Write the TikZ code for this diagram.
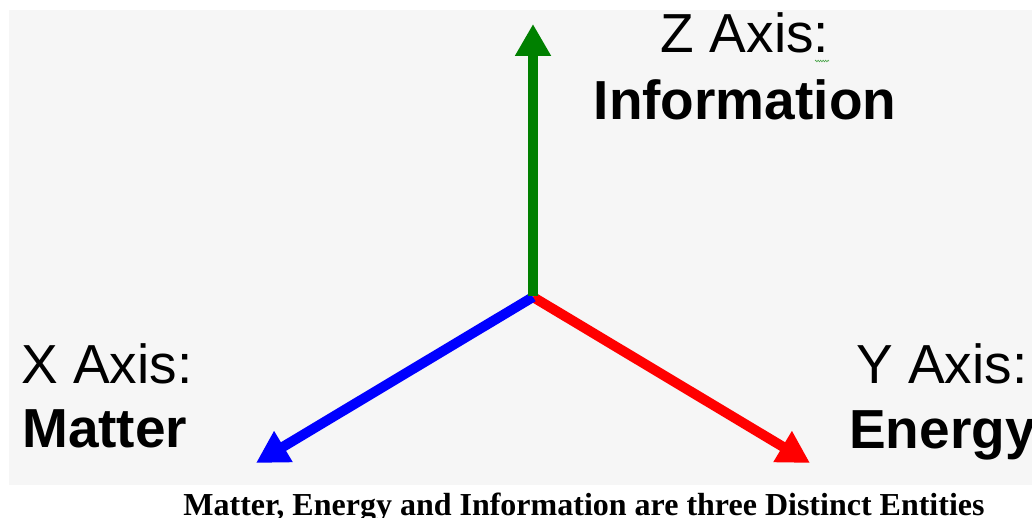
\documentclass[tikz,border=0pt]{standalone}
\usepackage{fontspec}
\setmainfont{Liberation Serif}
\newfontfamily\arialf{Liberation Sans}
\usetikzlibrary{arrows.meta,decorations.pathmorphing}
\definecolor{bgc}{HTML}{F6F6F6}
\definecolor{zgreen}{HTML}{008000}
\definecolor{xblue}{HTML}{0000FF}
\definecolor{yred}{HTML}{FF0000}
\tikzset{
  axisarrow/.style={line width=10pt, line cap=butt, -{Triangle[length=32pt,width=34pt]}},
  lblreg/.style={inner sep=0pt, font=\arialf\fontsize{55}{60}\selectfont, anchor=base},
  lblbold/.style={inner sep=0pt, font=\arialf\bfseries\fontsize{55}{60}\selectfont, anchor=base},
  captionstyle/.style={inner sep=0pt, font=\bfseries\fontsize{32}{36}\selectfont, anchor=base},
}
\begin{document}
\begin{tikzpicture}[x=1pt,y=-1pt]
\useasboundingbox (0,0) rectangle (1032,518);
\fill[white] (0,0) rectangle (1032,518);
\fill[bgc] (9,10) rectangle (1032,485);
\coordinate (O) at (533,297);
\coordinate (Ztip) at (533,24);
\coordinate (Xtip) at (256,463);
\coordinate (Ytip) at (810,463);
\draw[axisarrow, yred] (O) -- (Ytip);
\draw[axisarrow, xblue] (O) -- (Xtip);
\draw[axisarrow, zgreen] ([yshift=1pt]O) -- (Ztip);
\node[lblreg] (zaxis) at (745,53) {Z Axis:};
\node[lblbold] (zinfo) at (745,120) {Information};
\coordinate (sq1) at (815,61);
\coordinate (sq2) at (829,61);
\draw[zgreen!70!white, line width=0.6pt, decorate, decoration={zigzag, amplitude=0.8pt, segment length=2.5pt}] (sq1) -- (sq2);
\node[lblreg, anchor=base west] (xaxis) at (21,383) {X Axis:};
\node[lblbold, anchor=base west] (xmatter) at (22,447) {Matter};
\node[lblreg, anchor=base west] (yaxis) at (856,383) {Y Axis:};
\node[lblbold, anchor=base west] (yenergy) at (849,448) {Energy};
\node[captionstyle] (cap) at (584,515) {Matter, Energy and Information are three Distinct Entities};
\end{tikzpicture}
\end{document}
